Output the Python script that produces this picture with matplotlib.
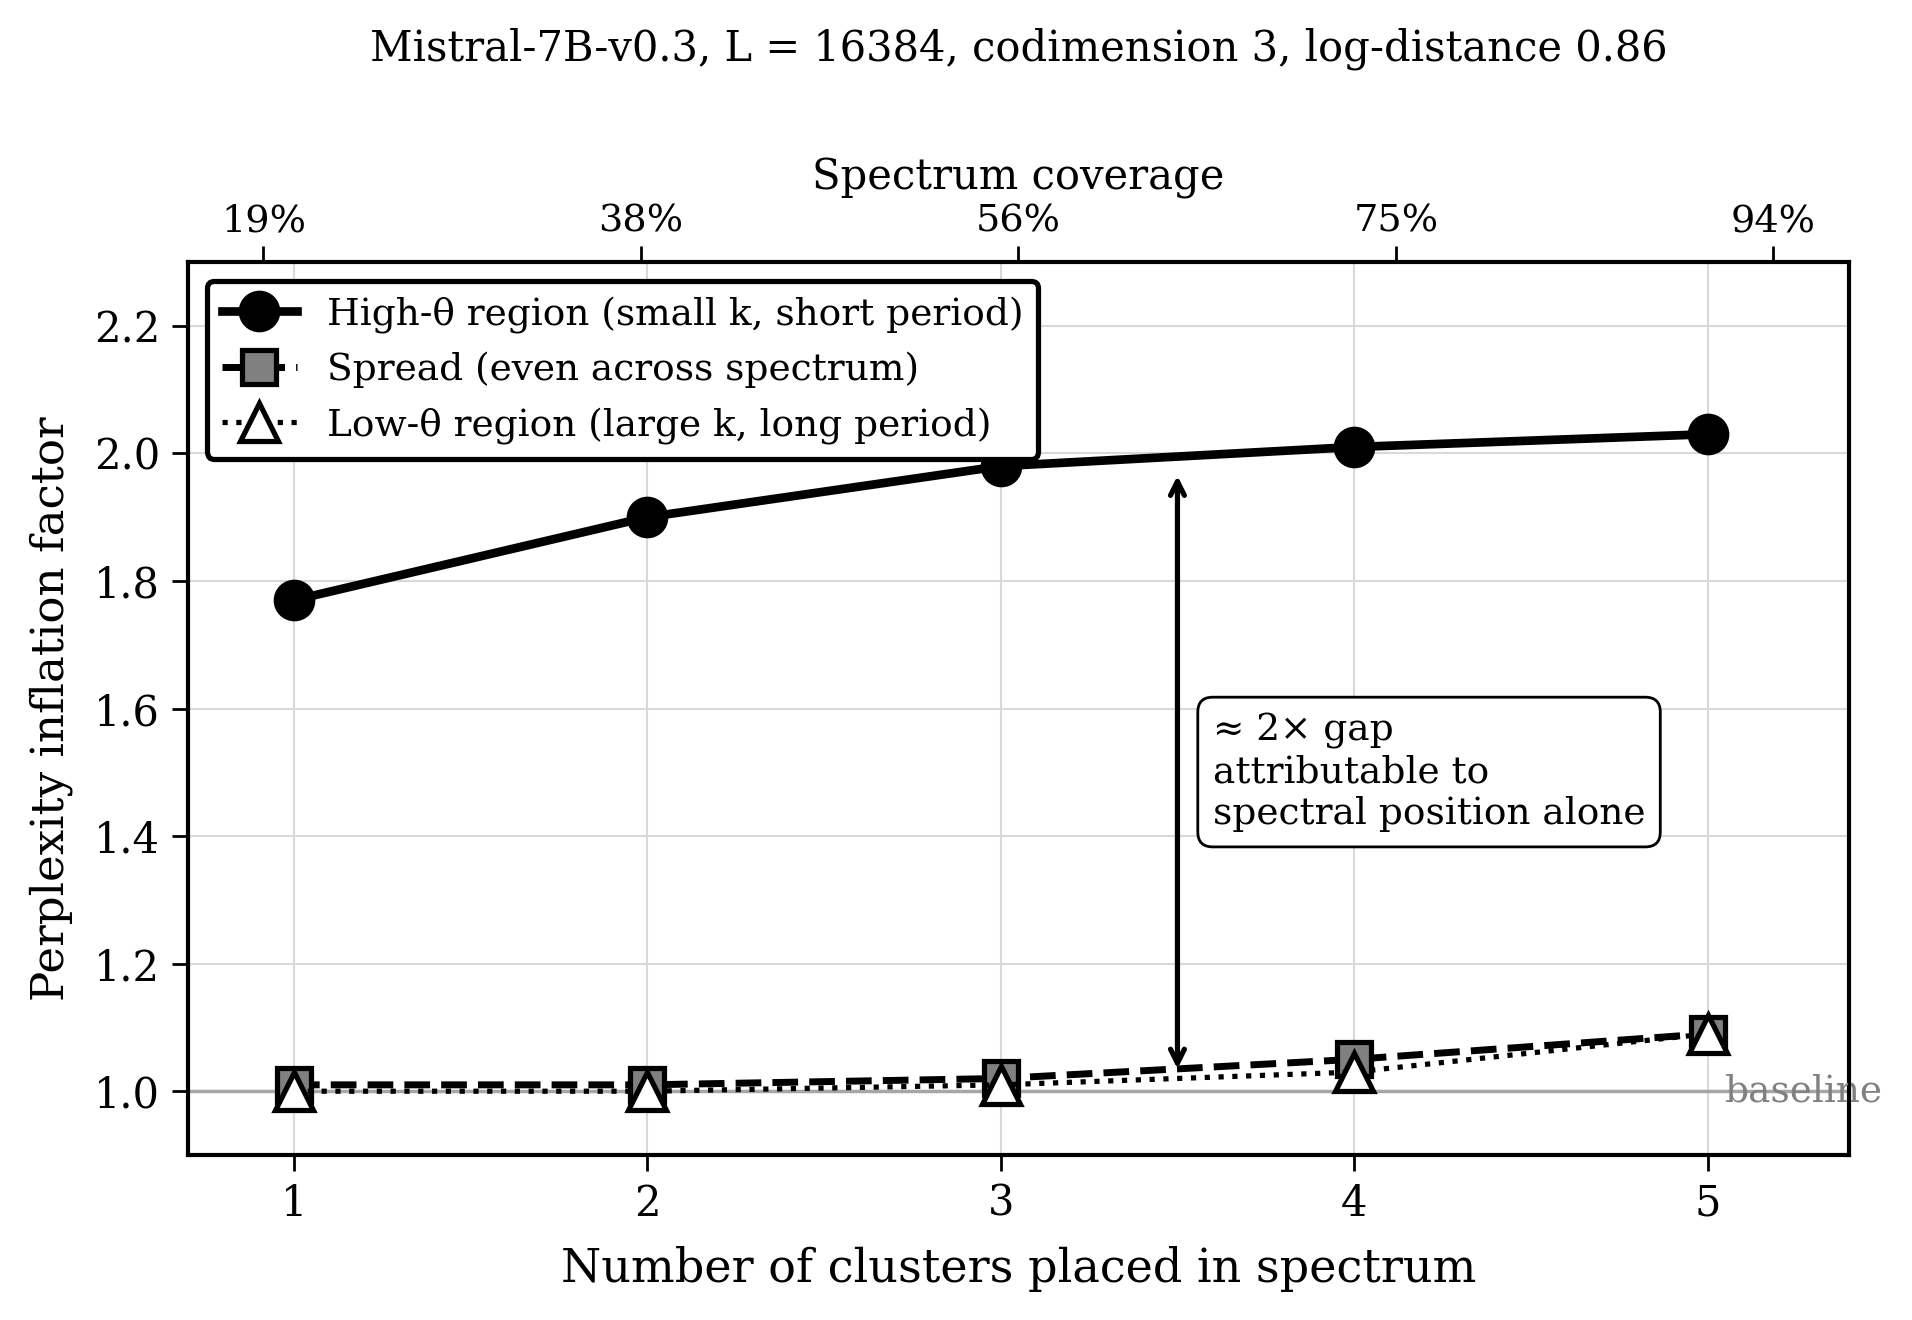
import matplotlib
matplotlib.use("Agg")
import matplotlib.pyplot as plt

plt.rcParams['font.family'] = 'DejaVu Serif'

n_clusters = [1, 2, 3, 4, 5]
high_theta = [1.77, 1.90, 1.98, 2.01, 2.03]
spread = [1.01, 1.01, 1.02, 1.05, 1.09]
low_theta = [1.00, 1.00, 1.01, 1.03, 1.09]
coverage_labels = ["19%", "38%", "56%", "75%", "94%"]

fig, ax = plt.subplots(figsize=(1912 / 250, 1320 / 250), dpi=250)
fig.subplots_adjust(left=0.0983, right=0.967, top=0.8015, bottom=0.125)

ax.axhline(1.0, color="0.65", lw=1.0, zorder=1)
ax.text(5.05, 1.0, "baseline", color="0.5", fontsize=10.8, va="center", ha="left")

ax.plot(n_clusters, high_theta, "-", color="black", lw=2.5, marker="o", ms=11,
        mfc="black", mec="black", label="High-θ region (small k, short period)", zorder=4)
ax.plot(n_clusters, spread, "--", color="black", lw=2.0, marker="s", ms=10,
        mfc="0.5", mec="black", mew=1.5, label="Spread (even across spectrum)", zorder=4)
ax.plot(n_clusters, low_theta, ":", color="black", lw=1.5, marker="^", ms=11,
        mfc="white", mec="black", mew=1.5, label="Low-θ region (large k, long period)", zorder=5)

ax.annotate("", xy=(3.5, 1.965), xytext=(3.5, 1.035),
            arrowprops=dict(arrowstyle="<->", lw=1.5, color="black", shrinkA=0, shrinkB=0))
ax.text(3.6, 1.5, "≈ 2× gap\nattributable to\nspectral position alone", fontsize=10.8,
        va="center", ha="left",
        bbox=dict(boxstyle="round,pad=0.4", fc="white", ec="black", lw=0.8))

ax.set_xlim(0.7, 5.4)
ax.set_ylim(0.9, 2.3)
ax.set_xticks(n_clusters)
ax.set_yticks([1.0, 1.2, 1.4, 1.6, 1.8, 2.0, 2.2])
ax.tick_params(labelsize=12, length=4.5)
ax.grid(True, color="0.85", lw=0.6)
ax.set_axisbelow(True)
for s in ax.spines.values():
    s.set_linewidth(1.2)

ax.set_xlabel("Number of clusters placed in spectrum", fontsize=13.3, labelpad=6)
ax.set_ylabel("Perplexity inflation factor", fontsize=13, labelpad=6)

ax2 = ax.twiny()
ax2.set_xlim(0.8, 5.2)
ax2.set_xticks(n_clusters)
ax2.set_xticklabels(coverage_labels, fontsize=11)
ax2.tick_params(length=4.5, pad=2.1)
ax2.set_xlabel("Spectrum coverage", fontsize=12, labelpad=4)

leg = ax.legend(loc="upper left", fontsize=10.8, framealpha=1, edgecolor="black")
leg.get_frame().set_linewidth(1.5)

# title centred over the axes
fig.text((0.0983 + 0.967) / 2, 0.963, "Mistral-7B-v0.3, L = 16384, codimension 3, log-distance 0.86",
         fontsize=12, ha="center", va="center")

plt.savefig("out.png", dpi=250)
